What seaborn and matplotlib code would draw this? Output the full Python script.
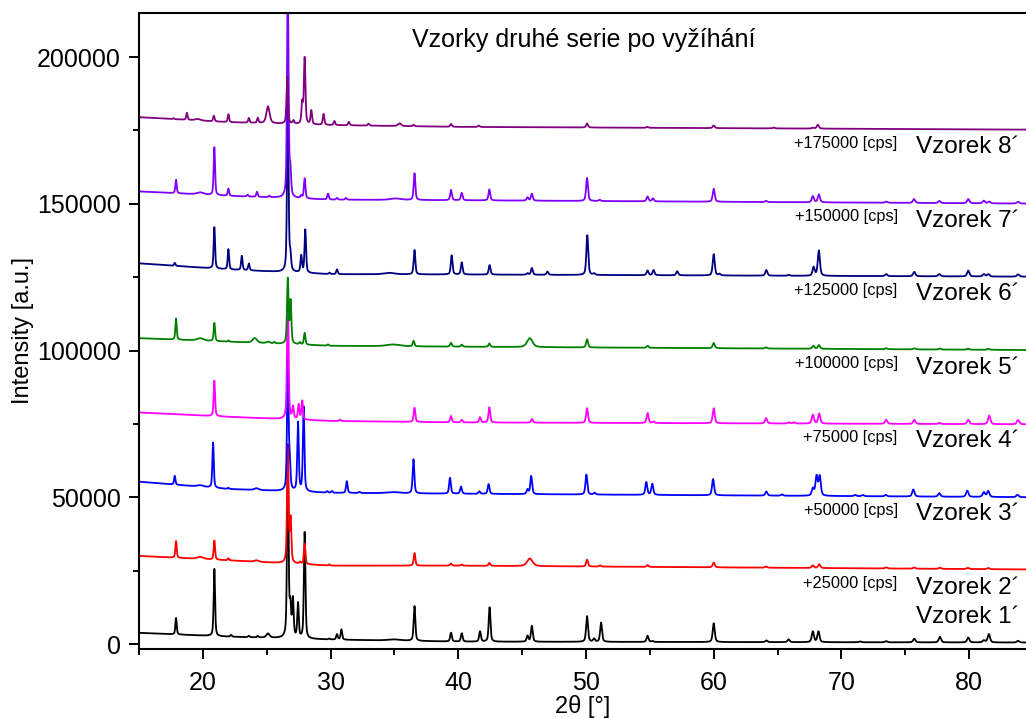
import numpy as np
import pandas as pd
import matplotlib
matplotlib.use("Agg")
import matplotlib.pyplot as plt
import seaborn as sns
from matplotlib.ticker import MultipleLocator

sns.set_theme(style="ticks")
plt.rcParams['font.family'] = ['Liberation Sans', 'DejaVu Sans']
plt.rcParams.update({"text.color": "black", "axes.labelcolor": "black",
                     "xtick.color": "black", "ytick.color": "black"})

# --- sample names, offsets and colours (Origin-like) ---
samples = ["Vzorek 1´", "Vzorek 2´", "Vzorek 3´", "Vzorek 4´",
           "Vzorek 5´", "Vzorek 6´", "Vzorek 7´", "Vzorek 8´"]
offsets = [0, 25000, 50000, 75000, 100000, 125000, 150000, 175000]
colors = ["#000000", "#FF0000", "#0000FF", "#FF00FF",
          "#008000", "#000080", "#8000FF", "#800080"]

# background (net counts) read at these 2theta anchors
bg_x = [15, 22, 30, 40, 85]
bg_1 = [3800, 2500, 1500, 800, 500]
bg_2 = [5000, 3500, 1700, 1700, 400]
bg_3 = [5300, 2800, 1500, 1200, 0]
bg_4 = [3900, 2400, 1000, 500, -150]
bg_5 = [4200, 3000, 1600, 1300, 150]
bg_6 = [4700, 2600, 1000, 900, 150]
bg_7 = [4200, 2700, 1400, 1200, 50]
bg_8 = [4500, 2800, 1800, 1200, 250]

# peak positions [deg] and net heights [cps]
pos_1 = [17.9, 20.9, 22.2, 23.6, 24.3, 25.1, 26.65, 26.85, 27.05, 27.45, 27.97, 29.9,
         30.5, 30.85, 35.0, 36.57, 39.43, 40.27, 41.7, 42.45, 45.42, 45.76, 50.08, 50.63,
         51.18, 54.82, 55.2, 60.0, 64.12, 65.86, 67.76, 68.2, 71.46, 73.5, 75.7, 77.71,
         79.93, 81.15, 81.54, 83.83]
hgt_1 = [5600, 22900, 600, 500, 500, 1400, 62000, 10000, 12800, 11700, 36200, 300,
         1800, 3500, 400, 11850, 3000, 2850, 3500, 11700, 2000, 5400, 8750, 1050,
         6560, 2100, 300, 6400, 600, 950, 3650, 3650, 300, 400, 1250, 1870,
         1650, 700, 2850, 600]

pos_2 = [17.9, 19.8, 20.9, 22.0, 24.2, 26.65, 26.87, 27.6, 27.97, 29.9, 36.57, 39.43,
         40.27, 42.43, 45.6, 50.08, 51.1, 54.82, 60.0, 64.1, 67.76, 68.26, 73.5, 75.7,
         77.7, 79.9, 81.5]
hgt_2 = [5700, 700, 6500, 700, 500, 40000, 14700, 600, 7000, 400, 4300, 700,
         400, 1000, 2600, 2300, 400, 600, 1630, 400, 900, 1300, 400, 400,
         400, 400, 400]

pos_3 = [17.8, 19.8, 20.8, 22.0, 24.2, 26.65, 26.8, 27.45, 27.89, 29.74, 30.1, 31.27,
         32.26, 34.9, 36.49, 39.35, 40.21, 41.65, 42.37, 45.42, 45.71, 50.03, 50.68, 54.72,
         55.19, 59.95, 64.12, 65.34, 67.76, 68.05, 68.3, 71.07, 71.67, 73.47, 75.63, 77.66,
         79.85, 81.15, 81.49, 83.78]
hgt_3 = [3000, 500, 15400, 400, 600, 45000, 9000, 23300, 28800, 500, 600, 4000,
         400, 400, 11600, 5400, 2450, 900, 3350, 1550, 6150, 6800, 600, 4350,
         3750, 5550, 1400, 450, 2450, 6600, 6600, 400, 400, 500, 2400, 1200,
         2100, 1600, 2000, 800]

pos_4 = [20.9, 26.65, 27.06, 27.5, 27.78, 30.75, 36.57, 39.43, 40.27, 41.7, 42.43, 45.76,
         50.08, 54.82, 55.29, 60.0, 64.1, 65.9, 66.3, 67.76, 68.26, 73.5, 75.7, 77.66,
         79.93, 81.57, 83.83]
hgt_4 = [12100, 45000, 4100, 5000, 6400, 500, 4800, 2150, 900, 1800, 5200, 1250,
         5000, 3400, 500, 5100, 1800, 400, 400, 3000, 3400, 1400, 1400, 400,
         1450, 2900, 1500]

pos_5 = [17.9, 19.8, 20.9, 22.0, 24.06, 25.1, 25.6, 26.65, 26.87, 27.6, 27.97, 29.8,
         34.9, 36.5, 39.43, 40.27, 42.43, 45.6, 50.08, 54.82, 60.0, 64.1, 67.8, 68.23,
         73.5, 75.7, 77.7, 79.9, 81.5]
hgt_5 = [7200, 800, 6200, 400, 1600, 500, 500, 22000, 14400, 700, 4000, 400,
         600, 1850, 1300, 700, 1150, 3050, 2750, 700, 1750, 400, 1000, 1250,
         350, 350, 350, 350, 350]

pos_6 = [17.8, 20.9, 22.0, 23.05, 23.6, 26.65, 26.85, 27.7, 28.02, 29.92, 30.5, 34.6,
         36.57, 39.48, 40.27, 42.45, 45.42, 45.76, 46.98, 50.1, 50.63, 54.82, 55.29, 57.14,
         60.0, 60.45, 64.12, 65.86, 67.82, 68.23, 73.5, 75.7, 77.66, 79.93, 81.15, 81.5,
         83.83]
hgt_6 = [1000, 14100, 6900, 4850, 2300, 60000, 5000, 5700, 14700, 500, 1600, 500,
         8300, 6500, 4100, 3250, 500, 2300, 1100, 13550, 500, 1600, 1750, 1400,
         7250, 500, 1900, 300, 2900, 8600, 700, 1500, 800, 2000, 800, 800,
         800]

pos_7 = [17.9, 19.8, 20.9, 22.0, 23.5, 24.24, 25.2, 26.65, 26.85, 27.7, 27.97, 29.8,
         30.5, 31.2, 35.1, 36.57, 39.43, 40.27, 42.43, 45.42, 45.76, 50.08, 51.07, 54.82,
         55.24, 60.0, 64.1, 67.76, 68.23, 73.5, 75.68, 77.66, 79.93, 81.15, 81.57, 83.83]
hgt_7 = [4600, 700, 16300, 2400, 600, 1700, 500, 75000, 8200, 900, 6800, 2000,
         600, 600, 500, 9100, 3500, 2500, 3750, 1100, 2350, 7850, 400, 1650,
         1000, 4400, 400, 2100, 2700, 400, 1300, 700, 1400, 900, 600, 600]

pos_8 = [17.7, 18.75, 19.6, 20.86, 22.0, 23.6, 24.3, 25.1, 26.61, 27.1, 27.78, 27.97,
         28.49, 29.45, 30.3, 31.43, 32.97, 35.4, 36.5, 39.43, 41.6, 50.08, 54.8, 60.0,
         64.7, 67.76, 68.15]
hgt_8 = [300, 2400, 500, 1900, 2700, 1600, 1700, 5750, 16100, 1100, 7000, 22500,
         4700, 3700, 1400, 1200, 700, 900, 500, 950, 500, 1400, 300, 900,
         300, 300, 1300]

# peaks that are clearly broader than the instrument line
broad = {19.8: 0.6, 19.6: 0.5, 45.6: 0.5, 34.9: 1.2, 35.0: 1.2, 34.6: 1.0,
         35.1: 1.0, 35.4: 0.3, 24.06: 0.4, 24.2: 0.4, 25.1: 0.3}

bgs = [bg_1, bg_2, bg_3, bg_4, bg_5, bg_6, bg_7, bg_8]
poss = [pos_1, pos_2, pos_3, pos_4, pos_5, pos_6, pos_7, pos_8]
hgts = [hgt_1, hgt_2, hgt_3, hgt_4, hgt_5, hgt_6, hgt_7, hgt_8]


def pattern(tt, bg, pos, hgt):
    """Background + pseudo-Voigt peaks."""
    y = np.interp(tt, bg_x, bg).astype(float)
    for p, h in zip(pos, hgt):
        w = broad.get(p, 0.12 + 0.0015 * (p - 15))
        d = (tt - p) / (w / 2)
        y += h * (0.5 / (1 + d ** 2) + 0.5 * np.exp(-np.log(2) * d ** 2))
    return y


tt = np.arange(15, 84.46, 0.01)
frames = []
for name, off, bg, pos, hgt in zip(samples, offsets, bgs, poss, hgts):
    frames.append(pd.DataFrame({"two_theta": tt,
                                "intensity": pattern(tt, bg, pos, hgt) + off,
                                "sample": name}))
df = pd.concat(frames, ignore_index=True)

fig = plt.figure(figsize=(10.26, 7.18), dpi=100)
ax = fig.add_axes([139 / 1026, 1 - 649 / 718, (1026 - 139) / 1026, (649 - 13) / 718])

sns.lineplot(data=df, x="two_theta", y="intensity", hue="sample",
             hue_order=samples, palette=colors, estimator=None, sort=False,
             linewidth=1.3, legend=False, ax=ax)

ax.set_xlim(15, 84.45)
ax.set_ylim(-1700, 215000)
ax.xaxis.set_major_locator(MultipleLocator(10))
ax.xaxis.set_minor_locator(MultipleLocator(5))
ax.yaxis.set_major_locator(MultipleLocator(50000))
ax.yaxis.set_minor_locator(MultipleLocator(25000))
ax.tick_params(which="major", direction="out", length=7, width=1.4, labelsize=18)
ax.tick_params(which="minor", direction="out", length=4, width=1.4)
ax.tick_params(axis="x", which="major", pad=9)
ax.tick_params(axis="y", which="major", pad=6)
for side in ["left", "bottom", "top"]:
    ax.spines[side].set_linewidth(1.5)
    ax.spines[side].set_color("black")
ax.spines["right"].set_visible(False)

ax.set_xlabel("2θ [°]", fontsize=17, labelpad=0)
ax.set_ylabel("Intensity [a.u.]", fontsize=17, labelpad=2)

ax.text(49.8, 205800, "Vzorky druhé serie po vyžíhání", fontsize=18,
        ha="center", va="center")

# sample labels and offset notes on the right
for name, off in zip(samples, offsets):
    ylab = 9200 if off == 0 else off - 5800
    ax.text(75.8, ylab, name, fontsize=17.5, ha="left", va="center", clip_on=False)
    if off > 0:
        ax.text(74.4, off - 4500, f"+{off} [cps]", fontsize=11.8,
                ha="right", va="center")

fig.savefig("out.png", dpi=100)
